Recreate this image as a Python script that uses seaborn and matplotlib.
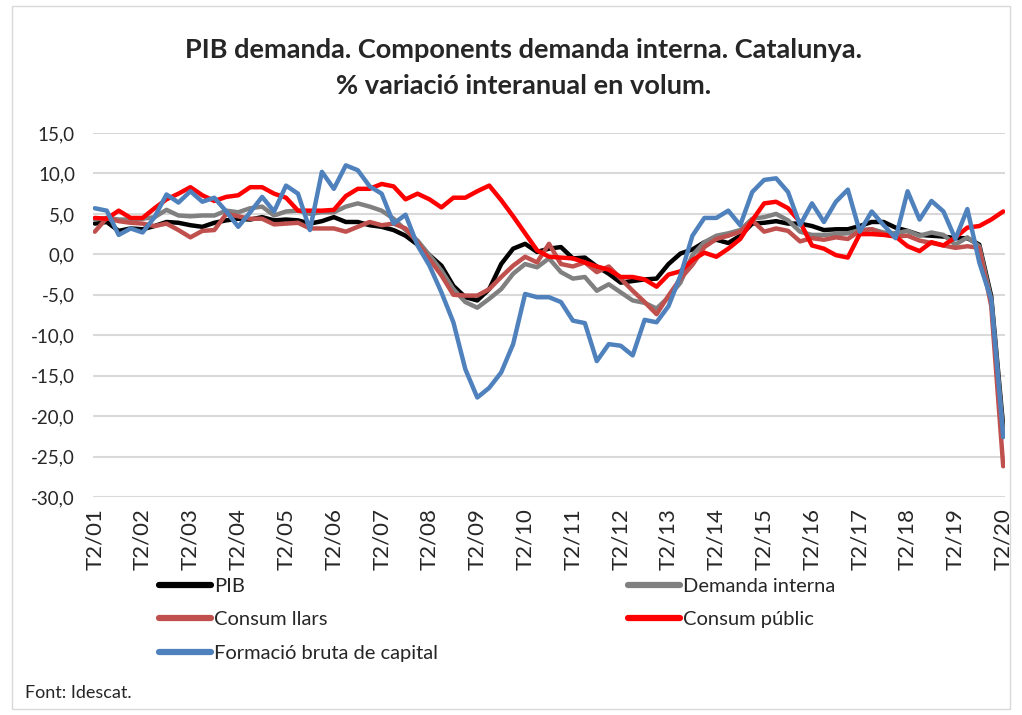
import numpy as np
import pandas as pd
import matplotlib
matplotlib.use("Agg")
import matplotlib.pyplot as plt
from matplotlib.patches import Rectangle
import seaborn as sns

# trimestres T2/01 ... T2/20 (77 trimestres)
years = list(range(2001, 2021))
tick_labels = [f"T2/{str(y)[-2:]}" for y in years]

pib = [3.8, 4.0, 2.9, 3.2, 3.1, 3.5, 4.0, 3.9, 3.6, 3.4,
       3.9, 4.2, 4.4, 4.3, 4.6, 4.2, 4.3, 4.2, 3.8, 4.1,
       4.6, 4.0, 4.0, 3.6, 3.4, 3.0, 2.3, 1.2, -0.1, -1.4,
       -3.9, -5.3, -5.7, -4.3, -1.2, 0.7, 1.3, 0.3, 0.7, 0.9,
       -0.5, -0.4, -1.5, -2.4, -3.5, -3.3, -3.1, -3.0, -1.2, 0.1,
       0.6, 1.5, 1.8, 1.4, 2.3, 3.8, 3.9, 4.1, 3.8, 3.8,
       3.5, 3.0, 3.1, 3.1, 3.5, 4.0, 4.0, 3.3, 2.9, 2.4,
       2.3, 2.2, 2.0, 2.0, 1.2, -5.2, -21.3]

demanda_interna = [4.3, 4.5, 4.3, 4.3, 4.4, 4.6, 5.5, 4.8, 4.7, 4.8,
                   4.8, 5.4, 5.2, 5.7, 5.9, 4.8, 5.3, 5.4, 5.0, 5.2,
                   5.2, 5.9, 6.3, 5.9, 5.4, 4.4, 3.0, 1.7, -0.1, -2.0,
                   -4.3, -5.9, -6.6, -5.5, -4.3, -2.4, -1.2, -1.6, -0.5, -2.2,
                   -3.0, -2.8, -4.5, -3.7, -4.7, -5.7, -6.0, -6.7, -5.3, -3.5,
                   -0.1, 1.5, 2.3, 2.6, 3.0, 4.4, 4.6, 5.0, 4.2, 2.8,
                   2.4, 2.4, 2.5, 2.6, 3.0, 3.1, 2.7, 2.6, 2.9, 2.3,
                   2.7, 2.4, 1.2, 2.1, 1.0, -5.6, -22.0]

consum_llars = [2.8, 4.5, 4.1, 3.9, 3.8, 3.5, 3.8, 3.0, 2.1, 2.9,
                3.0, 5.0, 4.7, 4.4, 4.4, 3.7, 3.8, 3.9, 3.2, 3.2,
                3.2, 2.8, 3.4, 4.0, 3.6, 3.8, 3.2, 1.5, -0.6, -2.6,
                -5.0, -5.1, -5.1, -4.3, -2.8, -1.4, -0.3, -1.0, 1.3, -1.2,
                -1.5, -1.0, -2.2, -1.5, -3.0, -4.5, -5.9, -7.4, -5.1, -3.0,
                -1.3, 0.9, 1.9, 2.3, 2.8, 4.2, 2.8, 3.2, 2.9, 1.6,
                2.0, 1.8, 2.1, 1.9, 2.9, 3.1, 2.5, 2.2, 2.3, 1.7,
                1.4, 1.1, 0.8, 1.0, 0.8, -6.4, -26.2]

consum_public = [4.5, 4.4, 5.4, 4.5, 4.5, 5.7, 6.8, 7.5, 8.3, 7.3,
                 6.6, 7.1, 7.3, 8.3, 8.3, 7.5, 7.0, 5.4, 5.4, 5.4,
                 5.5, 7.2, 8.1, 8.1, 8.7, 8.4, 6.8, 7.5, 6.8, 5.8,
                 7.0, 7.0, 7.8, 8.5, 6.7, 4.7, 2.6, 0.5, -0.3, -0.4,
                 -0.5, -1.0, -1.5, -1.9, -2.8, -2.8, -3.1, -4.0, -2.5, -2.1,
                 -0.7, 0.2, -0.3, 0.7, 1.9, 4.2, 6.3, 6.5, 5.7, 4.0,
                 1.1, 0.7, -0.1, -0.4, 2.5, 2.5, 2.4, 2.2, 1.0, 0.4,
                 1.5, 1.1, 2.1, 3.3, 3.5, 4.3, 5.3]

fbc = [5.7, 5.4, 2.4, 3.2, 2.7, 4.6, 7.4, 6.4, 7.8, 6.5,
       7.0, 5.3, 3.4, 5.2, 7.1, 5.3, 8.5, 7.5, 3.0, 10.2,
       8.1, 11.0, 10.4, 8.4, 7.5, 3.8, 4.9, 1.1, -1.4, -4.7,
       -8.4, -14.2, -17.7, -16.5, -14.6, -11.1, -4.9, -5.3, -5.3, -5.9,
       -8.2, -8.5, -13.2, -11.1, -11.3, -12.5, -8.1, -8.4, -6.4, -2.6,
       2.3, 4.5, 4.5, 5.4, 3.6, 7.7, 9.2, 9.4, 7.7, 3.6,
       6.3, 4.0, 6.5, 8.0, 2.8, 5.3, 3.6, 2.0, 7.8, 4.3,
       6.6, 5.3, 1.9, 5.6, -1.0, -5.6, -22.6]

series = {
    "PIB": pib,
    "Demanda interna": demanda_interna,
    "Consum llars": consum_llars,
    "Consum públic": consum_public,
    "Formació bruta de capital": fbc,
}
colors = {
    "PIB": "#000000",
    "Demanda interna": "#808080",
    "Consum llars": "#C0504D",
    "Consum públic": "#FF0000",
    "Formació bruta de capital": "#4F81BD",
}

y_ticks = [15, 10, 5, 0, -5, -10, -15, -20, -25, -30]
y_labels = ["15,0", "10,0", "5,0", "0,0", "-5,0", "-10,0", "-15,0", "-20,0", "-25,0", "-30,0"]

rows = []
for name, vals in series.items():
    for i, v in enumerate(vals):
        rows.append({"idx": i, "serie": name, "valor": v})
df = pd.DataFrame(rows)

sns.set_style("white")
plt.rcParams["font.family"] = ["Lato", "DejaVu Sans"]

fig = plt.figure(figsize=(10.22, 7.15), dpi=100)
ax = fig.add_axes([93 / 1022, 1 - 497 / 715, (1005 - 93) / 1022, (497 - 133) / 715])

sns.lineplot(data=df, x="idx", y="valor", hue="serie", hue_order=list(series.keys()),
             palette=colors, linewidth=3.2, ax=ax, legend=False)

ax.set_xlim(-0.15, 76.15)
ax.set_ylim(-30, 15)
ax.set_yticks(y_ticks)
ax.set_yticklabels(y_labels, fontsize=13.5)
ax.set_xticks([4 * k for k in range(len(tick_labels))])
ax.set_xticklabels(tick_labels, rotation=90, fontsize=16)
ax.tick_params(axis="y", length=0, pad=13)
ax.tick_params(axis="x", length=0, pad=8)
ax.set_xlabel("")
ax.set_ylabel("")
ax.grid(axis="y", color="#d9d9d9", linewidth=1.5)
ax.set_axisbelow(True)
for s in ax.spines.values():
    s.set_visible(False)

fig.text(0.512, 1 - 50 / 715, "PIB demanda. Components demanda interna. Catalunya.",
         ha="center", va="center", fontsize=19.5, fontweight="bold")
fig.text(0.512, 1 - 86 / 715, "% variació interanual en volum.",
         ha="center", va="center", fontsize=19.5, fontweight="bold")

# llegenda: dues columnes en ordre per files
order = ["PIB", "Consum llars", "Formació bruta de capital", "Demanda interna", "Consum públic"]
handles = [plt.Line2D([], [], color=colors[n], linewidth=4.5) for n in order]
fig.legend(handles, order, ncol=2, loc="upper left", bbox_to_anchor=(151 / 1022, 1 - 570 / 715),
           frameon=False, fontsize=14.5, handlelength=2.6, handletextpad=0.15,
           columnspacing=9.4, labelspacing=0.8, borderaxespad=0)

fig.text(25 / 1022, 1 - 693 / 715, "Font: Idescat.", ha="left", va="center", fontsize=13)

fig.patches.append(Rectangle((12 / 1022, 6 / 715), 1 - 24 / 1022, 1 - 12 / 715,
                             transform=fig.transFigure, fill=False,
                             edgecolor="#d9d9d9", linewidth=1))

fig.savefig("out.png", dpi=100)
